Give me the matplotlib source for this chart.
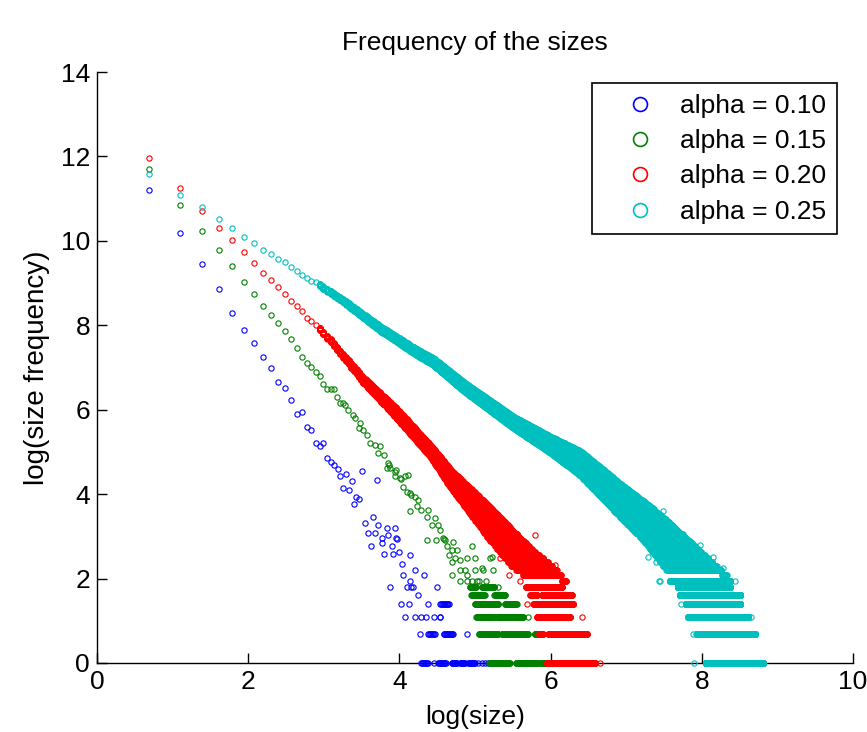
import numpy as np
import matplotlib
matplotlib.use('Agg')
import matplotlib.pyplot as plt
from matplotlib.lines import Line2D

plt.rcParams['font.family'] = ['Liberation Sans', 'DejaVu Sans']

labels = ['alpha = 0.10', 'alpha = 0.15', 'alpha = 0.20', 'alpha = 0.25']
colors = ['#0000ff', '#008000', '#ff0000', '#00bfbf']

# log(size frequency) for sizes 2, 3, 4, ... while the points still stand apart
blue_head = [11.21, 10.18, 9.44, 8.87, 8.30, 7.89, 7.59, 7.26, 6.98, 6.65, 6.52,
             6.23, 5.90, 5.94, 5.58, 5.52, 5.21, 5.15, 5.22, 4.85, 4.76, 4.69]
green_head = [11.70, 10.84, 10.23, 9.78, 9.41, 9.03, 8.74, 8.46, 8.25, 8.05, 7.87,
              7.67, 7.47, 7.26, 7.10, 7.02, 6.89, 6.81, 6.60, 6.49, 6.49, 6.49,
              6.29, 6.15, 6.15]
red_head = [11.96, 11.25, 10.71, 10.30, 10.02, 9.73, 9.48, 9.24, 9.08, 8.91, 8.74,
            8.58, 8.46, 8.33, 8.17, 8.09, 8.01]
cyan_head = [11.58, 11.08, 10.80, 10.51, 10.31, 10.10, 9.94, 9.78, 9.68, 9.57, 9.49,
             9.38, 9.29, 9.19, 9.12, 9.06, 9.02]

# loose points further down (log size, log frequency)
blue_loose_x = [3.19, 3.22, 3.26, 3.30, 3.33, 3.37, 3.40, 3.43, 3.47, 3.51, 3.54, 3.59,
                3.63, 3.65, 3.68, 3.70, 3.72, 3.77, 3.77, 3.79, 3.83, 3.85, 3.88, 3.90,
                3.92, 3.94, 3.96, 3.97, 4.00, 4.14, 4.04, 4.21, 4.05, 4.14, 4.33]
blue_loose_y = [4.59, 4.42, 4.14, 4.48, 4.10, 4.30, 3.77, 3.94, 3.88, 4.56, 3.31, 3.07,
                2.78, 3.45, 3.07, 4.34, 3.27, 2.95, 2.84, 2.58, 3.19, 3.03, 1.79, 2.77,
                2.58, 3.19, 2.95, 2.94, 2.64, 2.56, 2.34, 2.20, 2.08, 1.95, 2.08]
green_loose_x = [3.28, 3.32, 3.39, 3.41, 3.48, 3.46, 3.52, 3.57, 3.61, 3.68, 3.74, 3.72,
                 3.79, 3.85, 3.86, 3.83, 3.88, 3.94, 3.96, 4.01, 4.02, 3.94, 4.07, 4.12,
                 4.05, 4.10, 4.16, 4.14, 4.21, 4.25, 4.23, 4.29, 4.14, 4.38, 4.36, 4.47,
                 4.51, 4.43, 4.54, 4.36, 4.49, 4.58, 4.59, 4.60, 4.71, 4.63, 4.69, 4.76,
                 4.65, 4.74, 4.80, 4.96, 4.89, 5.00, 5.20, 5.22, 5.24, 4.80, 4.87, 5.00,
                 5.09, 4.89, 5.11, 4.69, 4.80, 4.89, 4.96, 5.02, 5.05, 5.15, 4.69]
green_loose_y = [6.10, 6.00, 5.88, 5.80, 5.69, 5.56, 5.52, 5.40, 5.21, 5.17, 5.13, 4.97,
                 4.93, 4.73, 4.70, 4.61, 4.61, 4.53, 4.57, 4.38, 4.36, 4.42, 4.42, 4.45,
                 4.18, 4.06, 3.98, 4.02, 3.94, 3.86, 3.72, 3.63, 3.59, 3.63, 3.47, 3.43,
                 3.27, 3.27, 3.15, 2.91, 2.91, 2.95, 2.94, 2.91, 2.87, 2.76, 2.68, 2.68,
                 2.56, 2.48, 2.44, 2.76, 2.48, 2.48, 2.48, 2.52, 2.20, 2.20, 2.20, 2.20,
                 2.24, 2.08, 2.20, 2.08, 1.95, 1.95, 1.95, 1.95, 1.95, 1.95, 2.40]
red_loose_x = [5.79, 5.33, 5.95, 6.06, 5.60, 5.45]
red_loose_y = [3.03, 2.48, 2.32, 2.32, 1.95, 2.08]
cyan_loose_x = [7.16, 7.29, 7.98, 8.15, 8.28, 7.49, 7.40, 7.45]
cyan_loose_y = [3.90, 2.52, 2.80, 2.52, 2.24, 3.59, 2.40, 1.95]

# dense band: lower / upper edge of the cloud at some log(size) positions
red_cloud_x = [2.944, 3.08, 3.24, 3.52, 3.96, 4.40, 4.69, 5.20, 5.50, 5.73, 6.00, 6.21]
red_cloud_lo = [7.88, 7.62, 7.28, 6.64, 5.80, 4.91, 4.12, 2.90, 2.25, 1.95, 1.95, 1.95]
red_cloud_hi = [7.94, 7.69, 7.36, 6.78, 6.04, 5.19, 4.56, 3.70, 3.15, 2.75, 2.35, 1.95]
cyan_cloud_x = [2.944, 3.26, 3.74, 4.18, 4.45, 4.85, 5.51, 6.00, 6.39, 6.65, 6.92, 7.18,
                7.36, 7.49, 7.58, 7.65, 8.02, 8.33]
cyan_cloud_lo = [8.92, 8.54, 7.87, 7.35, 7.06, 6.45, 5.57, 4.98, 4.45, 3.97, 3.45, 2.99,
                 2.60, 2.28, 2.08, 2.08, 2.08, 2.08]
cyan_cloud_hi = [8.98, 8.62, 7.99, 7.49, 7.22, 6.65, 5.83, 5.36, 5.02, 4.65, 4.25, 3.90,
                 3.65, 3.45, 3.31, 3.20, 2.60, 2.08]

# tail: frequency -> spans of log(size) that carry this frequency
blue_tail = {
    1: [(4.29, 4.38), (4.45, 4.45), (4.51, 4.62), (4.69, 4.76), (4.80, 4.87),
        (4.91, 5.00), (5.04, 5.04), (5.09, 5.09), (5.13, 5.13), (5.17, 5.17)],
    2: [(4.27, 4.27), (4.38, 4.47), (4.58, 4.71), (4.89, 4.89)],
    3: [(4.07, 4.07), (4.21, 4.21), (4.29, 4.29), (4.36, 4.36), (4.45, 4.45), (4.53, 4.54)],
    4: [(4.02, 4.02), (4.12, 4.12), (4.38, 4.38), (4.54, 4.65)],
    5: [(4.25, 4.25)],
    6: [(4.10, 4.10), (4.16, 4.17), (4.50, 4.50)],
}
green_tail = {
    1: [(5.19, 5.19), (5.20, 5.46), (5.54, 5.84), (5.88, 5.95)],
    2: [(5.05, 5.31), (5.35, 5.70), (5.79, 5.86)],
    3: [(5.02, 5.26), (5.29, 5.64), (5.70, 5.70)],
    4: [(5.00, 5.31), (5.40, 5.55)],
    5: [(4.95, 5.13), (5.26, 5.40)],
    6: [(4.93, 5.02), (5.09, 5.26), (5.31, 5.31)],
}
red_tail = {
    1: [(5.95, 6.10), (6.12, 6.59), (6.65, 6.65)],
    2: [(5.84, 5.90), (5.97, 6.48)],
    3: [(5.82, 6.26), (6.41, 6.41)],
    4: [(5.69, 5.69), (5.77, 6.30)],
    5: [(5.73, 5.82), (5.88, 6.28)],
    6: [(5.67, 6.15)],
}
cyan_tail = {
    1: [(7.90, 7.90), (8.05, 8.81)],
    2: [(7.89, 7.89), (7.93, 8.70)],
    3: [(7.82, 8.61), (8.65, 8.65)],
    4: [(7.73, 7.73), (7.79, 8.51)],
    5: [(7.71, 8.51)],
    6: [(7.68, 8.37)],
    7: [(7.44, 7.44), (7.58, 7.65), (7.67, 8.37), (8.44, 8.44)],
}


def head_points(vals):
    sizes = np.arange(2, 2 + len(vals))
    return np.log(sizes), np.array(vals)


def tail_points(tail):
    xs, ys = [], []
    for count, spans in tail.items():
        for lo, hi in spans:
            sizes = np.arange(round(np.exp(lo)), round(np.exp(hi)) + 1)
            xs.append(np.log(sizes))
            ys.append(np.full(len(sizes), np.log(count)))
    return np.concatenate(xs), np.concatenate(ys)


def cloud_points(cx, clo, chi, step=0.005):
    # every integer size / integer count that falls inside the band
    sizes = np.arange(round(np.exp(cx[0])), round(np.exp(cx[-1])) + 1)
    lx = np.unique(np.round(np.log(sizes) / step) * step)
    xs, ys = [], []
    for x in lx:
        a = np.interp(x, cx, clo)
        b = np.interp(x, cx, chi)
        cs = np.arange(np.ceil(np.exp(a)), np.floor(np.exp(b)) + 1)
        if len(cs) == 0:
            cs = np.array([round(np.exp((a + b) / 2))])
        ly = np.unique(np.round(np.log(cs) / step) * step)
        xs.append(np.full(len(ly), x))
        ys.append(ly)
    return np.concatenate(xs), np.concatenate(ys)


series = [
    (blue_head, (blue_loose_x, blue_loose_y), None, blue_tail),
    (green_head, (green_loose_x, green_loose_y), None, green_tail),
    (red_head, (red_loose_x, red_loose_y), (red_cloud_x, red_cloud_lo, red_cloud_hi), red_tail),
    (cyan_head, (cyan_loose_x, cyan_loose_y), (cyan_cloud_x, cyan_cloud_lo, cyan_cloud_hi), cyan_tail),
]

fig = plt.figure(figsize=(8.67, 7.32), dpi=100)
ax = fig.add_axes([97 / 867, 1 - 663 / 732, 756 / 867, 591 / 732])

for (head, loose, cloud, tail), col in zip(series, colors):
    parts = [head_points(head), (np.array(loose[0]), np.array(loose[1])), tail_points(tail)]
    if cloud is not None:
        parts.append(cloud_points(*cloud))
    x = np.concatenate([p[0] for p in parts])
    y = np.concatenate([p[1] for p in parts])
    ax.plot(x, y, ls='none', marker='o', ms=3.8, mfc='none', mec=col, mew=0.8,
            clip_on=False, zorder=3)

ax.set_xlim(0, 10)
ax.set_ylim(0, 14)
ax.set_xticks(range(0, 11, 2))
ax.set_yticks(range(0, 15, 2))
ax.spines['top'].set_visible(False)
ax.spines['right'].set_visible(False)
for s in ['left', 'bottom']:
    ax.spines[s].set_linewidth(1.0)
ax.tick_params(direction='in', length=7, width=1.0, labelsize=19, pad=5)

ax.set_title('Frequency of the sizes', fontsize=19, pad=16)
ax.set_xlabel('log(size)', fontsize=19, labelpad=8)
ax.set_ylabel('log(size frequency)', fontsize=20, labelpad=8)

handles = [Line2D([], [], ls='none', marker='o', ms=10, mfc='none', mec=c, mew=1.2)
           for c in colors]
leg = ax.legend(handles, labels, loc='upper right', bbox_to_anchor=(0.979, 0.981),
                borderaxespad=0, fontsize=19, frameon=True, fancybox=False,
                edgecolor='black', framealpha=1, handlelength=2.8, handletextpad=0.15,
                labelspacing=0.43, borderpad=0.4)
leg.get_frame().set_linewidth(1.2)

fig.savefig('out.png', dpi=100)
